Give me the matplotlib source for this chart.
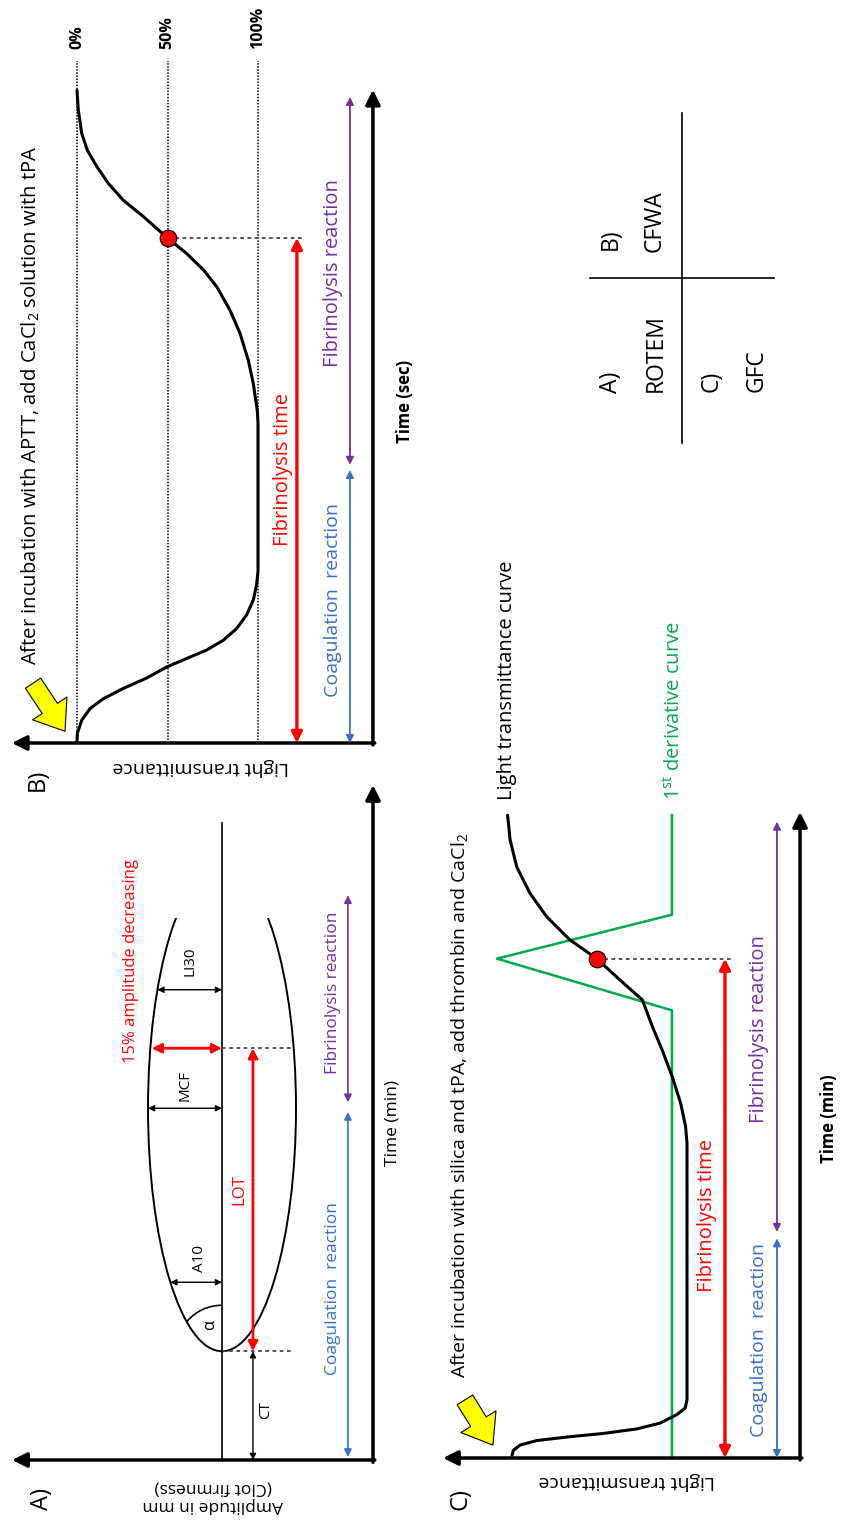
import matplotlib.pyplot as plt
from matplotlib.patches import Ellipse, Arc, Rectangle

plt.rcParams['font.family'] = ['Open Sans', 'DejaVu Sans']
plt.rcParams['mathtext.fontset'] = 'custom'
plt.rcParams['mathtext.rm'] = 'Open Sans'

RED = '#FF0000'
BLUE = '#3A6FC8'
PURPLE = '#7030A0'
GREEN = '#00A84F'

# ---- A) ROTEM: amplitude (mm from baseline) against time (min)
rotem_ct = 14.5            # clotting time
rotem_mcf_time = 46.9      # time of maximum clot firmness
rotem_mcf = 49             # amplitude at MCF
rotem_rise = 32.4          # CT -> MCF
rotem_end = 72.3           # end of trace
rotem_marks = ['A10', 'MCF', 'LI30']
rotem_mark_time = [23.7, 46.9, 62.7]
rotem_mark_amp = [34.2, 49, 42.8]
rotem_lot_time = 54.9      # 15 % amplitude decrease
rotem_lot_amp = 46.5
rotem_alpha_deg = 9.5
rotem_phases = [(0.4, 46.4), (47.7, 75.3)]

# ---- B) CFWA: transmittance level (%) against time (sec)
cfwa_guides = [0, 50, 100]
cfwa_guide_labels = ['0%', '50%', '100%']
cfwa_level = [0, 0.2, 2.6, 7.2, 14.5, 25.6, 38.5, 49.6, 60.6, 71.6, 80.8, 88.2,
              93.7, 97.4, 99.2, 100, 100, 99.6, 97.4, 94.6, 90.1, 84.5, 77.2,
              69.8, 60.6, 50, 36.6, 25.6, 17.3, 10.9, 5.7, 2.6, 0.7, 0]
cfwa_time = [0.3, 1.5, 3.5, 5.3, 6.8, 8.4, 10.0, 11.7, 13.0, 14.3, 15.8, 17.6,
             19.7, 22.0, 24.3, 26.4, 49.2, 51.2, 55.3, 58.9, 63.0, 66.6, 70.2,
             72.8, 75.3, 77.7, 81.0, 83.5, 86.1, 88.7, 91.2, 93.8, 97.4, 100.4]
cfwa_ft = (50, 77.7)
cfwa_phases = [(0, 42), (42.8, 99.4)]

# ---- C) GFC: transmittance level (%) against time (min)
gfc_level = [0, 0.8, 4.6, 14.1, 33.1, 52.2, 71.2, 84.6, 94.1, 98.9, 100, 100,
             99.2, 96.4, 91.6, 85.9, 80.2, 74.5, 61.7, 48.4, 33.1, 19.8, 10.3,
             2.7, -1.1, -2.5]
gfc_time = [0.4, 1.2, 2.0, 2.7, 3.3, 3.8, 4.5, 5.4, 6.7, 7.7, 9.0, 48.7,
            51.3, 54.9, 59.0, 63.1, 66.8, 70.9, 74.0, 77.3, 80.2, 83.8, 87.4,
            91.5, 95.7, 99.5]
gfc_deriv_level = [91.4, 91.4, -8.6, 91.4, 91.4]
gfc_deriv_time = [0, 69.3, 77.3, 84.1, 99.5]
gfc_ft = (48.4, 77.3)
gfc_phases = [(0, 34), (35, 98.5)]

# ---- summary table
table_labels = ['A)', 'ROTEM', 'B)', 'CFWA', 'C)', 'GFC']
table_x = [-0.772, -0.283, -0.772, -0.293, 0.326, 0.815]
table_y = [-0.697, -0.691, 0.170, 0.158, -0.691, -0.691]

W, H = 843, 1520
fig = plt.figure(figsize=(W / 100, H / 100), dpi=100)


def panel(box, xref, yref):
    x0, y0, x1, y1 = box
    ax = fig.add_axes([x0 / W, 1 - y1 / H, (x1 - x0) / W, (y1 - y0) / H])
    (u1, p1), (u2, p2) = xref
    k = (u2 - u1) / (p2 - p1)
    ax.set_xlim(u1 + (x0 - p1) * k, u1 + (x1 - p1) * k)
    (v1, q1), (v2, q2) = yref
    m = (v2 - v1) / (q2 - q1)
    ax.set_ylim(v1 + (y1 - q1) * m, v1 + (y0 - q1) * m)
    ax.axis('off')
    return ax


def arrow(ax, p0, p1, color, lw, ms, style='<|-|>'):
    ax.annotate('', xy=p1, xytext=p0, annotation_clip=False,
                arrowprops=dict(arrowstyle=style, color=color, lw=lw,
                                mutation_scale=ms, shrinkA=0, shrinkB=0))


def vtext(ax, x, y, s, ha='center', rot=90, **kw):
    ax.text(x, y, s, rotation=rot, rotation_mode='anchor', ha=ha, va='center', **kw)


def yellow(ax, tail, tip):
    ax.annotate('', xy=tip, xytext=tail, annotation_clip=False,
                arrowprops=dict(arrowstyle='simple,head_length=0.6,head_width=0.9,tail_width=0.4',
                                fc='#FFFF00', ec='black', lw=0.8, mutation_scale=33,
                                shrinkA=0, shrinkB=0))


def frame(ax, x_axis, x_tip, t_top):
    arrow(ax, (x_axis, -0.3), (x_axis, t_top), 'black', 2.5, 22, '-|>')
    arrow(ax, (x_axis + (x_tip - x_axis) * -0.005, 0), (x_tip, 0), 'black', 2.5, 22, '-|>')


# ================= A) ROTEM
axA = panel((0, 600, 420, 1520), ((0, 222), (-100, 373)), ((0, 1460), (90, 785)))
frame(axA, -100, 139, 90)
axA.plot([0, 0], [0, 85], color='black', lw=1.2)
trace = Ellipse((0, rotem_mcf_time), 2 * rotem_mcf, 2 * rotem_rise, fill=False, lw=1.4, ec='black')
axA.add_patch(trace)
trace.set_clip_path(Rectangle((-200, -20), 400, 20 + rotem_end, transform=axA.transData))
axA.add_patch(Arc((0, rotem_ct), 2 * 46 / 1.51, 2 * 46 / 7.5, theta1=rotem_alpha_deg,
                  theta2=90, lw=1.2, color='black'))
vtext(axA, 8, 18, 'α', fontsize=12)
for name, tt, amp, lx, ly in zip(rotem_marks, rotem_mark_time, rotem_mark_amp,
                                 [14.6, 24.5, 21.5], [26.8, 50.0, 66.5]):
    arrow(axA, (0, tt), (amp, tt), 'black', 1.0, 9)
    vtext(axA, lx, ly, name, fontsize=11)
for tt in [rotem_ct, rotem_lot_time]:
    axA.plot([0, -48], [tt, tt], color='#444444', lw=1.3, ls=(0, (2, 2)))
arrow(axA, (0, rotem_lot_time), (rotem_lot_amp, rotem_lot_time), RED, 2.0, 14)
arrow(axA, (-20.5, rotem_ct), (-20.5, rotem_lot_time), RED, 2.0, 14)
arrow(axA, (-20.5, 0), (-20.5, rotem_ct), 'black', 1.0, 9)
vtext(axA, -11.3, 36.1, 'LOT', fontsize=12, color=RED)
vtext(axA, -29, 6.7, 'CT', fontsize=11)
vtext(axA, 60.3, 66.5, '15% amplitude decreasing', fontsize=12, color=RED)
arrow(axA, (-83.4, rotem_phases[0][0]), (-83.4, rotem_phases[0][1]), BLUE, 1.2, 11)
arrow(axA, (-83.4, rotem_phases[1][0]), (-83.4, rotem_phases[1][1]), PURPLE, 1.2, 11)
vtext(axA, -73.5, 22.8, 'Coagulation  reaction', fontsize=12.5, color=BLUE)
vtext(axA, -73.5, 62.3, 'Fibrinolysis reaction', fontsize=12.5, color=PURPLE)
vtext(axA, -113.2, 45, 'Time (min)', fontsize=12.5)
vtext(axA, 6, -4.8, 'Amplitude in mm\n(Clot firmness)', rot=180, fontsize=12.5,
      multialignment='center', linespacing=1.1)
vtext(axA, 119.2, -5.2, 'A)', fontsize=17)

# ================= B) CFWA
axB = panel((0, 0, 420, 800), ((0, 77), (100, 258)), ((0, 743), (100, 93)))
frame(axB, 163.5, -36, 100.5)
for g, lab in zip(cfwa_guides, cfwa_guide_labels):
    axB.plot([g, g], [0, 105], color='black', lw=1.1, ls=(0, (1, 1)))
    vtext(axB, g, 106.8, lab, ha='left', fontsize=11.5, fontweight='bold')
axB.plot(cfwa_level, cfwa_time, color='black', lw=2.2, solid_capstyle='round')
axB.plot([cfwa_ft[0], 126], [cfwa_ft[1], cfwa_ft[1]], color='#444444', lw=1.3, ls=(0, (2, 2)))
axB.plot(*cfwa_ft, 'o', ms=12, mfc=RED, mec='black', mew=0.8)
arrow(axB, (121.5, 0), (121.5, cfwa_ft[1]), RED, 2.4, 16)
arrow(axB, (150.8, cfwa_phases[0][0]), (150.8, cfwa_phases[0][1]), BLUE, 1.3, 11)
arrow(axB, (150.8, cfwa_phases[1][0]), (150.8, cfwa_phases[1][1]), PURPLE, 1.3, 11)
vtext(axB, 114, 42, 'Fibrinolysis time', fontsize=14.5, color=RED)
vtext(axB, 141.4, 22, 'Coagulation  reaction', fontsize=14, color=BLUE)
vtext(axB, 141.4, 72.3, 'Fibrinolysis reaction', fontsize=14.5, color=PURPLE)
vtext(axB, 181.2, 52.5, 'Time (sec)', fontsize=12, fontweight='bold')
vtext(axB, 68.5, -3.7, 'Light transmittance', rot=180, fontsize=14)
vtext(axB, -21.5, -5.7, 'B)', fontsize=17)
vtext(axB, -25.5, 12, r'After incubation with APTT, add CaCl$_\mathrm{2}$ solution with tPA',
      ha='left', fontsize=14.6)
yellow(axB, (-24.3, 9.2), (-6.6, 1.8))

# ================= C) GFC
axC = panel((420, 760, 843, 1520), ((0, 512), (100, 687)), ((0, 1458), (100, 812)))
frame(axC, 164.6, -39.4, 100)
axC.plot(gfc_deriv_level, gfc_deriv_time, color=GREEN, lw=1.8)
axC.plot(gfc_level, gfc_time, color='black', lw=2.2, solid_capstyle='round')
axC.plot([gfc_ft[0], 126.3], [gfc_ft[1], gfc_ft[1]], color='#444444', lw=1.3, ls=(0, (2, 2)))
axC.plot(*gfc_ft, 'o', ms=12, mfc=RED, mec='black', mew=0.8)
arrow(axC, (121.7, 0), (121.7, gfc_ft[1]), RED, 2.4, 16)
arrow(axC, (151.4, gfc_phases[0][0]), (151.4, gfc_phases[0][1]), BLUE, 1.3, 11)
arrow(axC, (151.4, gfc_phases[1][0]), (151.4, gfc_phases[1][1]), PURPLE, 1.3, 11)
vtext(axC, 111.4, 37.6, 'Fibrinolysis time', fontsize=14.5, color=RED)
vtext(axC, 141, 18.3, 'Coagulation  reaction', fontsize=14, color=BLUE)
vtext(axC, 141, 66.4, 'Fibrinolysis reaction', fontsize=14.5, color=PURPLE)
vtext(axC, 181, 52.6, 'Time (min)', fontsize=12, fontweight='bold')
vtext(axC, 65.7, -3.6, 'Light transmittance', rot=180, fontsize=14)
vtext(axC, -29.7, -6.3, 'C)', fontsize=17)
vtext(axC, -29.7, 12.4, r'After incubation with silica and tPA, add thrombin and CaCl$_\mathrm{2}$',
      ha='left', fontsize=14)
vtext(axC, -2.9, 101.9, 'Light transmittance curve', ha='left', fontsize=14.5)
vtext(axC, 92.6, 101.9, r'1$^\mathrm{st}$ derivative curve', ha='left', fontsize=14.5, color=GREEN)
yellow(axC, (-26.9, 9.0), (-10.9, 2.0))

# ================= summary table
axD = panel((560, 80, 800, 480), ((-1, 590), (1, 774)), ((-1, 443), (1, 113)))
axD.plot([0, 0], [-1, 1], color='black', lw=1.2)
axD.plot([-1, 1], [0, 0], color='black', lw=1.2)
for lab, x, y in zip(table_labels, table_x, table_y):
    vtext(axD, x, y, lab, ha='left', fontsize=16.5)

fig.savefig('out.png', dpi=100)
